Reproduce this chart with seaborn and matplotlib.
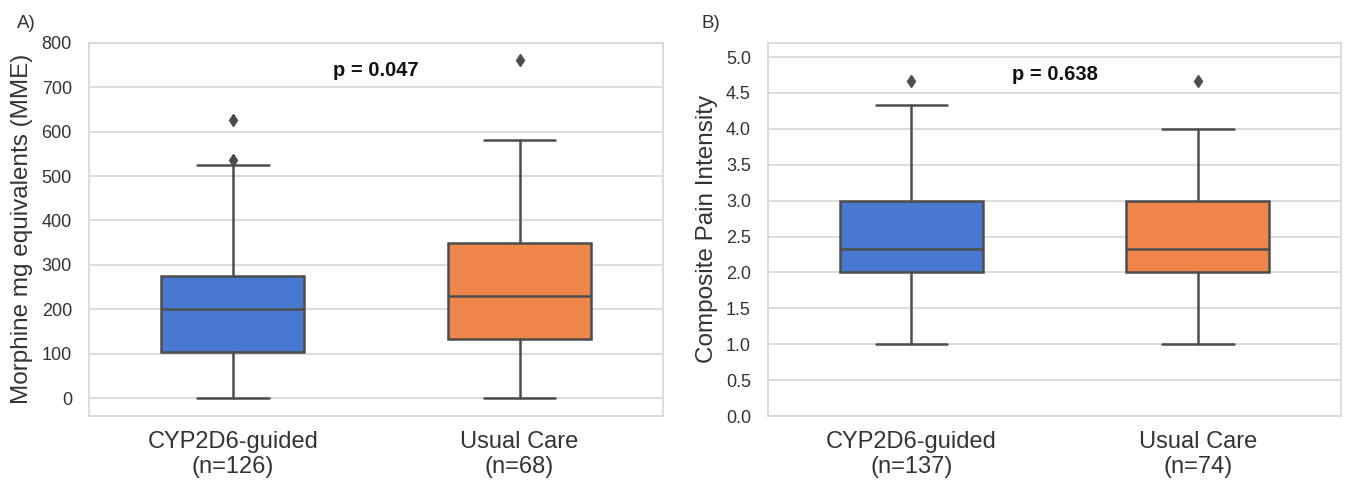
import matplotlib
matplotlib.use("Agg")
import matplotlib.pyplot as plt
import seaborn as sns

# ---------------- data ----------------
groups_a = ["CYP2D6-guided\n(n=126)", "Usual Care\n(n=68)"]
groups_b = ["CYP2D6-guided\n(n=137)", "Usual Care\n(n=74)"]

# Panel A: Morphine mg equivalents (MME)
a_whislo = [0, 0]
a_q1 = [103, 134]
a_med = [200, 230]
a_q3 = [276, 350]
a_whishi = [525, 580]
a_fliers = [[536, 625], [760]]
a_p_text = "p = 0.047"

# Panel B: Composite Pain Intensity
b_whislo = [1.0, 1.0]
b_q1 = [2.0, 2.0]
b_med = [2.333, 2.333]
b_q3 = [3.0, 3.0]
b_whishi = [4.333, 4.0]
b_fliers = [[4.667], [4.667]]
b_p_text = "p = 0.638"

# ---------------- style ----------------
sns.set_theme(style="whitegrid")
plt.rcParams["font.family"] = ["Liberation Sans", "DejaVu Sans"]
palette = sns.color_palette("muted")[:2]
line_col = "#4d4d4d"
text_col = "#333333"
grid_col = "#d9d9d9"


def make_stats(whislo, q1, med, q3, whishi, fliers):
    return [
        dict(whislo=whislo[i], q1=q1[i], med=med[i], q3=q3[i],
             whishi=whishi[i], fliers=fliers[i])
        for i in range(len(med))
    ]


def draw_panel(ax, stats, labels, ylabel, ylim, yticks, ytickfmt, p_text, p_y):
    bp = ax.bxp(
        stats, positions=[0, 1], widths=0.5, patch_artist=True,
        showfliers=True, manage_ticks=False,
        boxprops=dict(edgecolor=line_col, linewidth=1.8),
        medianprops=dict(color=line_col, linewidth=1.8),
        whiskerprops=dict(color=line_col, linewidth=1.8),
        capprops=dict(color=line_col, linewidth=1.8),
        flierprops=dict(marker="d", markersize=6, markerfacecolor=line_col,
                        markeredgecolor=line_col),
    )
    for patch, col in zip(bp["boxes"], palette):
        patch.set_facecolor(col)
        patch.set_zorder(2)
    ax.set_xlim(-0.5, 1.5)
    ax.set_ylim(*ylim)
    ax.set_xticks([0, 1])
    ax.set_xticklabels(labels, fontsize=17, color=text_col, linespacing=1.15)
    ax.set_yticks(yticks)
    ax.set_yticklabels([ytickfmt.format(t) for t in yticks], fontsize=13,
                       color=text_col)
    ax.tick_params(axis="x", length=0, pad=11)
    ax.tick_params(axis="y", length=0, pad=12.5)
    ax.set_ylabel(ylabel, fontsize=17.5, color=text_col, labelpad=6)
    ax.grid(axis="y", color=grid_col, linewidth=1.3)
    ax.grid(axis="x", visible=False)
    ax.set_axisbelow(True)
    for s in ax.spines.values():
        s.set_color(grid_col)
        s.set_linewidth(1.3)
    ax.text(0.5, p_y, p_text, ha="center", va="baseline", fontsize=14.5,
            fontweight="bold", color="#111111")


fig = plt.figure(figsize=(13.47, 4.83), dpi=100)
ax_a = fig.add_axes([0.0663, 0.1387, 0.4259, 0.7729])
ax_b = fig.add_axes([0.5704, 0.1387, 0.4251, 0.7729])

stats_a = make_stats(a_whislo, a_q1, a_med, a_q3, a_whishi, a_fliers)
stats_b = make_stats(b_whislo, b_q1, b_med, b_q3, b_whishi, b_fliers)

draw_panel(ax_a, stats_a, groups_a, "Morphine mg equivalents (MME)",
           (-40, 800), [0, 100, 200, 300, 400, 500, 600, 700, 800], "{:.0f}",
           a_p_text, 724)
draw_panel(ax_b, stats_b, groups_b, "Composite Pain Intensity",
           (0, 5.2), [0.0, 0.5, 1.0, 1.5, 2.0, 2.5, 3.0, 3.5, 4.0, 4.5, 5.0],
           "{:.1f}", b_p_text, 4.675)

fig.text(0.0124, 0.9414, "A)", fontsize=13.5, color=text_col, va="baseline")
fig.text(0.5209, 0.9414, "B)", fontsize=13.5, color=text_col, va="baseline")

fig.savefig("out.png", dpi=100)
